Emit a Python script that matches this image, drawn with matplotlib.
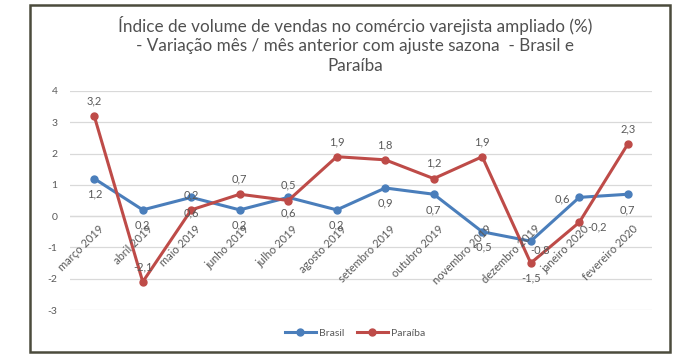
import matplotlib
matplotlib.use("Agg")
import matplotlib.pyplot as plt
from matplotlib.patches import Rectangle

meses = ["março 2019", "abril 2019", "maio 2019", "junho 2019", "julho 2019",
         "agosto 2019", "setembro 2019", "outubro 2019", "novembro 2019",
         "dezembro 2019", "janeiro 2020", "fevereiro 2020"]
brasil = [1.2, 0.2, 0.6, 0.2, 0.6, 0.2, 0.9, 0.7, -0.5, -0.8, 0.6, 0.7]
paraiba = [3.2, -2.1, 0.2, 0.7, 0.5, 1.9, 1.8, 1.2, 1.9, -1.5, -0.2, 2.3]
yticks = [-3, -2, -1, 0, 1, 2, 3, 4]

titulo = ("Índice de volume de vendas no comércio varejista ampliado (%)\n"
          "- Variação mês / mês anterior com ajuste sazona  - Brasil e\n"
          "Paraíba")

azul = "#4a7ebb"
vermelho = "#be4b48"
cinza = "#595959"

plt.rcParams['font.family'] = ['Lato', 'DejaVu Sans']

fig = plt.figure(figsize=(6.92, 3.6), dpi=100)
W, H = 692, 360
ax = fig.add_axes([70 / W, (H - 310) / H, 582 / W, 219 / H])

x = list(range(len(meses)))
ax.plot(x, brasil, '-o', color=azul, lw=2.2, ms=5, label="Brasil", zorder=3)
ax.plot(x, paraiba, '-o', color=vermelho, lw=2.2, ms=5, label="Paraíba", zorder=3)

ax.set_xlim(-0.5, len(meses) - 0.5)
ax.set_ylim(-3, 4)
ax.set_yticks(yticks)
ax.set_yticklabels([str(v) for v in yticks])
ax.tick_params(axis='y', length=0, labelsize=7.5, colors=cinza, pad=9)
ax.set_xticks([])
ax.grid(axis='y', color='#d9d9d9', lw=0.9)
ax.set_axisbelow(True)
for s in ax.spines.values():
    s.set_visible(False)
ax.axhline(0, color='#d9d9d9', lw=0.9, zorder=1)

# rotulos do eixo x (cruzando em zero)
for i, m in enumerate(meses):
    ax.annotate(m, (i, 0), xytext=(3, -5), textcoords='offset points',
                rotation=45, ha='right', va='top', rotation_mode='anchor',
                fontsize=8, color=cinza)

def fmt(v):
    return f"{v:.1f}".replace('.', ',')

# offsets dos rotulos de dados
off_b = {10: (-12, -1), 9: (7, -6)}
off_p = {10: (13, -3), 9: (0, -11)}
for i in x:
    dx, dy = off_b.get(i, (0, -11))
    ax.annotate(fmt(brasil[i]), (i, brasil[i]), xytext=(dx, dy), textcoords='offset points',
                ha='center', va='center', fontsize=8, color=cinza)
    dx, dy = off_p.get(i, (0, 11))
    ax.annotate(fmt(paraiba[i]), (i, paraiba[i]), xytext=(dx, dy), textcoords='offset points',
                ha='center', va='center', fontsize=8, color=cinza)

fig.text(355 / W, 1 - 45 / H, titulo, ha='center', va='center', fontsize=12.3,
         color='#505050', linespacing=1.25)

leg = fig.legend(loc='center', bbox_to_anchor=(355 / W, 1 - 333 / H), ncol=2, frameon=False,
                 fontsize=7.5, handlelength=3, columnspacing=1.2, handletextpad=0.3)
for t in leg.get_texts():
    t.set_color(cinza)

fig.patches.append(Rectangle((30 / W, 1 - 352 / H), 640 / W, 347 / H, transform=fig.transFigure,
                             fill=False, ec='#4b4b3c', lw=1.8))

fig.savefig("out.png", dpi=100)
